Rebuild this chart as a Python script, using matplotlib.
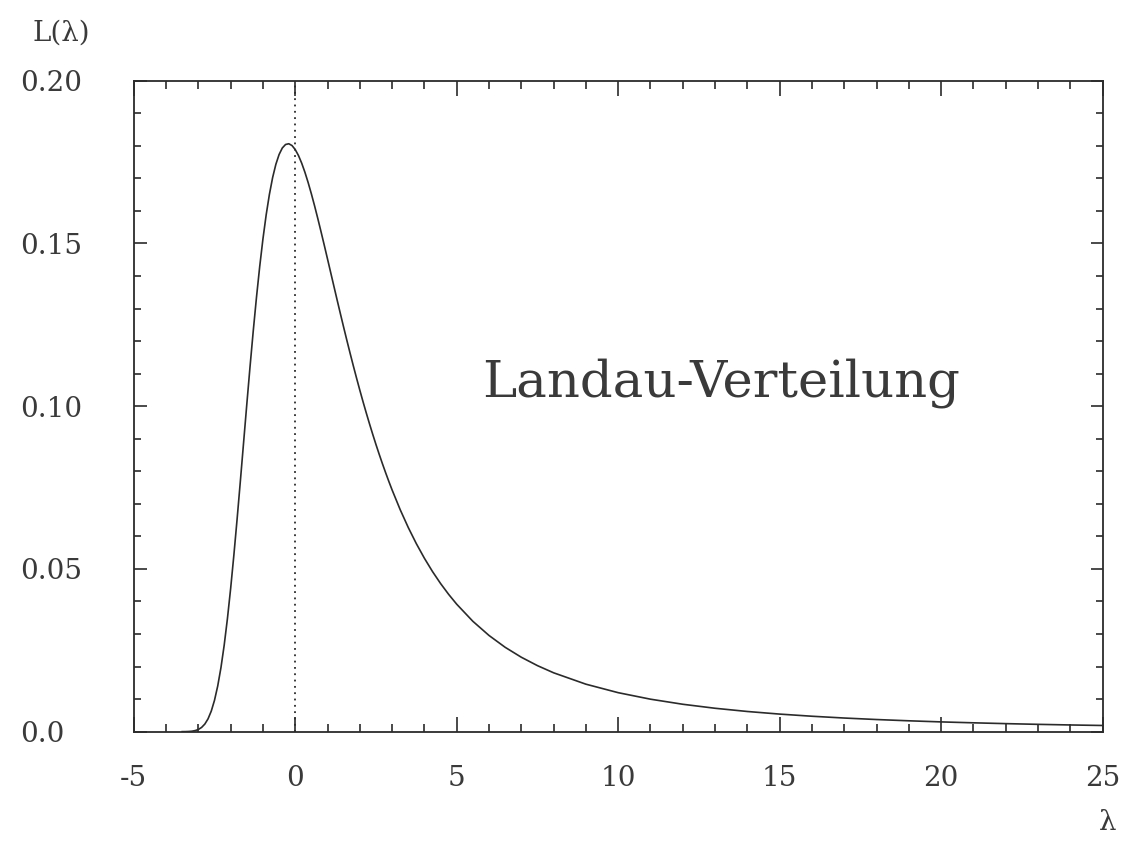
import numpy as np
import matplotlib
matplotlib.use("Agg")
import matplotlib.pyplot as plt
from matplotlib.ticker import MultipleLocator

# Landau density L(lambda)
lam = [-3.5, -3.4, -3.3, -3.2, -3.1, -3.0, -2.9, -2.8, -2.7, -2.6,
       -2.5, -2.4, -2.3, -2.2, -2.1, -2.0, -1.9, -1.8, -1.7, -1.6,
       -1.5, -1.4, -1.3, -1.2, -1.1, -1.0, -0.9, -0.8, -0.7, -0.6,
       -0.5, -0.4, -0.3, -0.2, -0.1, 0.0, 0.1, 0.2, 0.3, 0.4,
       0.5, 0.6, 0.7, 0.8, 0.9, 1.0, 1.1, 1.2, 1.3, 1.4,
       1.5, 1.6, 1.7, 1.8, 1.9, 2.0, 2.1, 2.2, 2.3, 2.4,
       2.5, 2.6, 2.7, 2.8, 2.9, 3.0, 3.25, 3.5, 3.75, 4.0,
       4.25, 4.5, 4.75, 5.0, 5.5, 6.0, 6.5, 7.0, 7.5, 8.0,
       9.0, 10.0, 11.0, 12.0, 13.0, 14.0, 15.0, 16.0, 17.0, 18.0,
       19.0, 20.0, 21.0, 22.0, 23.0, 24.0, 25.0]
L = [0.00001, 0.00002, 0.00006, 0.00014, 0.00033, 0.00067, 0.00130, 0.00233, 0.00394, 0.00632,
     0.00964, 0.01405, 0.01968, 0.02657, 0.03470, 0.04399, 0.05426, 0.06531, 0.07689, 0.08873,
     0.10055, 0.11210, 0.12313, 0.13346, 0.14292, 0.15139, 0.15879, 0.16508, 0.17026, 0.17432,
     0.17733, 0.17934, 0.18041, 0.18064, 0.18009, 0.17885, 0.17702, 0.17467, 0.17187, 0.16870,
     0.16523, 0.16152, 0.15761, 0.15356, 0.14942, 0.14521, 0.14097, 0.13673, 0.13251, 0.12834,
     0.12422, 0.12018, 0.11622, 0.11235, 0.10858, 0.10491, 0.10135, 0.09791, 0.09457, 0.09134,
     0.08822, 0.08522, 0.08232, 0.07953, 0.07684, 0.07425, 0.06820, 0.06272, 0.05776, 0.05327,
     0.04920, 0.04552, 0.04219, 0.03916, 0.03391, 0.02956, 0.02592, 0.02287, 0.02029, 0.01809,
     0.01459, 0.01198, 0.00998, 0.00842, 0.00719, 0.00620, 0.00540, 0.00474, 0.00419, 0.00373,
     0.00334, 0.00300, 0.00272, 0.00247, 0.00225, 0.00206, 0.00190]

xticks = [-5, 0, 5, 10, 15, 20, 25]
xticklabels = ['-5', '0', '5', '10', '15', '20', '25']
yticks = [0.0, 0.05, 0.10, 0.15, 0.20]
yticklabels = ['0.0', '0.05', '0.10', '0.15', '0.20']

ink = '#2b2b2b'
txt = '#3a3a3a'
plt.rcParams['font.family'] = ['DejaVu Serif']

fig = plt.figure(figsize=(11.24, 8.41), dpi=100)
ax = fig.add_axes([0.119, 0.130, 0.862, 0.774])

ax.plot(lam, L, color=ink, lw=1.2)
ax.plot([0, 0], [0, 0.2], color=ink, lw=1.3, linestyle=(0, (1, 2.5)))

ax.set_xlim(-5, 25)
ax.set_ylim(0, 0.2)
for s in ax.spines.values():
    s.set_color(ink)
    s.set_linewidth(1.3)

ax.set_xticks(xticks)
ax.set_xticklabels(xticklabels)
ax.set_yticks(yticks)
ax.set_yticklabels(yticklabels)
ax.xaxis.set_minor_locator(MultipleLocator(1))
ax.yaxis.set_minor_locator(MultipleLocator(0.01))

ax.tick_params(which='both', direction='in', top=True, right=True, color=ink, width=1.2)
ax.tick_params(which='major', axis='x', length=11)
ax.tick_params(which='minor', axis='x', length=6)
ax.tick_params(which='major', axis='y', length=9)
ax.tick_params(which='minor', axis='y', length=5)
ax.tick_params(axis='x', labelsize=20, labelcolor=txt, pad=24)
ax.tick_params(axis='y', labelsize=20, labelcolor=txt, pad=82)
for lab in ax.get_yticklabels():
    lab.set_horizontalalignment('left')

ax.text(0.36, 0.515, 'Landau-Verteilung', transform=ax.transAxes,
        fontsize=37, color=txt, ha='left', va='baseline')

fig.text(32 / 1124, 1 - 33 / 841, 'L(λ)', fontsize=20, color=txt, ha='left', va='center')
fig.text(1108 / 1124, 1 - 822 / 841, 'λ', fontsize=20, color=txt, ha='center', va='center')

fig.savefig('out.png', dpi=100, facecolor='white')
